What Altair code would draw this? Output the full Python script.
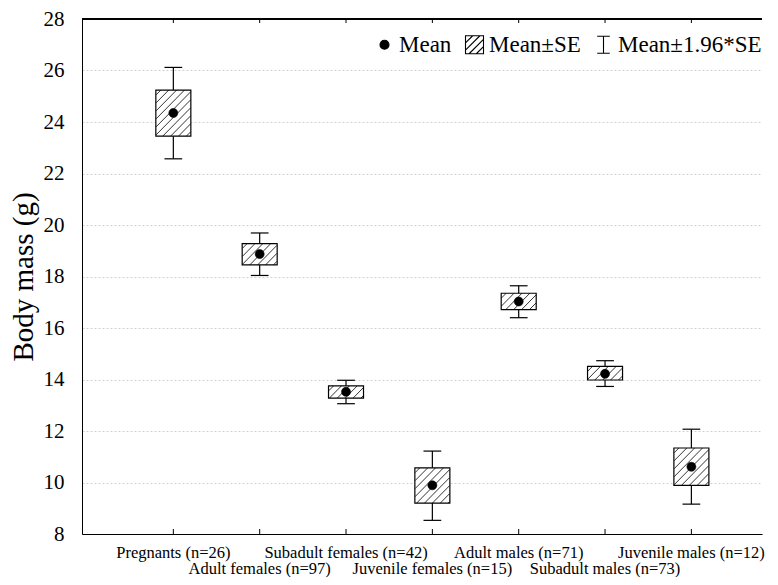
import altair as alt
import pandas as pd

# ---------------- data ----------------
categories = [
    "Pregnants (n=26)", "Adult females (n=97)", "Subadult females (n=42)",
    "Juvenile females (n=15)", "Adult males (n=71)", "Subadult males (n=73)",
    "Juvenile males (n=12)",
]
positions = [1, 2, 3, 4, 5, 6, 7]
label_rows = [0, 1, 0, 1, 0, 1, 0]
means = [24.35, 18.87, 13.52, 9.89, 17.03, 14.22, 10.61]
se_low = [23.45, 18.45, 13.28, 9.20, 16.71, 13.98, 9.89]
se_high = [25.24, 19.28, 13.75, 10.57, 17.35, 14.51, 11.34]
ci_low = [22.57, 18.04, 13.06, 8.53, 16.40, 13.73, 9.16]
ci_high = [26.12, 19.69, 13.97, 11.22, 17.64, 14.73, 12.07]
y_ticks = [8, 10, 12, 14, 16, 18, 20, 22, 24, 26, 28]
legend_labels = ["Mean", "Mean±SE", "Mean±1.96*SE"]

# ---------------- layout ----------------
W, H = 680, 515
XMAX = 7.76
YMIN, YMAX = 8, 28
PX_X = W / XMAX
PX_Y = H / (YMAX - YMIN)
BOX_PX = 35
CAP_PX = 18
HATCH_STEP = 8
FONT = "Liberation Serif"

half_box = BOX_PX / 2 / PX_X
half_cap = CAP_PX / 2 / PX_X

df = pd.DataFrame({
    "cat": categories, "pos": positions, "row": label_rows, "mean": means,
    "se_lo": se_low, "se_hi": se_high, "ci_lo": ci_low, "ci_hi": ci_high,
})
df["cap_l"] = df["pos"] - half_cap
df["cap_r"] = df["pos"] + half_cap
df["kind"] = "Mean"

# hatch segments ("/" at 45 degrees in screen space) inside each SE box
hx, hy, hx2, hy2 = [], [], [], []
for c, lo, hi in zip(positions, se_low, se_high):
    wb = BOX_PX
    hb = (hi - lo) * PX_Y
    k = -hb + HATCH_STEP * 0.6
    while k < wb:
        x0 = max(k, 0.0)
        y0 = x0 - k
        x1 = min(wb, k + hb)
        y1 = x1 - k
        hx.append(c - half_box + x0 / PX_X)
        hy.append(lo + y0 / PX_Y)
        hx2.append(c - half_box + x1 / PX_X)
        hy2.append(lo + y1 / PX_Y)
        k += HATCH_STEP
hatch = pd.DataFrame({"hx": hx, "hy": hy, "hx2": hx2, "hy2": hy2})

# ---------------- scales ----------------
xscale = alt.Scale(domain=[0, XMAX], nice=False, zero=False)
yscale = alt.Scale(domain=[YMIN, YMAX], nice=False, zero=False)

X = alt.X("pos:Q", scale=xscale,
          axis=alt.Axis(labels=False, ticks=False, grid=False, title=None,
                        domainColor="black", domainWidth=1))
Y_axis = alt.Axis(values=y_ticks, title="Body mass (g)", ticks=False,
                  labelPadding=18, labelFont=FONT, labelFontSize=21,
                  labelColor="black", domainColor="black", domainWidth=1,
                  grid=True, gridColor="#c4c4c4", gridDash=[2, 2], gridWidth=0.8,
                  titleFont=FONT, titleFontSize=29, titleFontWeight="normal",
                  titleColor="black", titlePadding=5)

base = alt.Chart(df)

stems = base.mark_rule(color="black", strokeWidth=1.2).encode(
    x=X,
    y=alt.Y("ci_lo:Q", scale=yscale, axis=Y_axis),
    y2="ci_hi:Q",
)
cap_lo = base.mark_rule(color="black", strokeWidth=1.2).encode(
    x=alt.X("cap_l:Q", scale=xscale), x2="cap_r:Q",
    y=alt.Y("ci_lo:Q", scale=yscale),
)
cap_hi = base.mark_rule(color="black", strokeWidth=1.2).encode(
    x=alt.X("cap_l:Q", scale=xscale), x2="cap_r:Q",
    y=alt.Y("ci_hi:Q", scale=yscale),
)
box_fill = base.mark_bar(size=BOX_PX, color="white").encode(
    x=alt.X("pos:Q", scale=xscale),
    y=alt.Y("se_lo:Q", scale=yscale), y2="se_hi:Q",
)
hatch_lines = alt.Chart(hatch).mark_rule(color="black", strokeWidth=0.8).encode(
    x=alt.X("hx:Q", scale=xscale), x2="hx2:Q",
    y=alt.Y("hy:Q", scale=yscale), y2="hy2:Q",
)
box_outline = base.mark_bar(size=BOX_PX, fillOpacity=0, stroke="black",
                            strokeWidth=1.2).encode(
    x=alt.X("pos:Q", scale=xscale),
    y=alt.Y("se_lo:Q", scale=yscale), y2="se_hi:Q",
)

circle_path = "M-0.5,0A0.5,0.5,0,1,0,0.5,0A0.5,0.5,0,1,0,-0.5,0Z"
hatch_path = ("M-1,-1H1V1H-1Z"
              "M-1,-0.2L-0.2,-1M-1,0.6L0.6,-1M-0.6,1L1,-0.6M0.2,1L1,0.2")
ibeam_path = "M-0.7,-0.95H0.7M0,-0.95V0.95M-0.7,0.95H0.7"

leg = alt.Legend(title=None, orient="none", legendX=291, legendY=14,
                 direction="horizontal", labelFont=FONT, labelFontSize=23,
                 labelColor="black", symbolSize=324, symbolStrokeColor="black",
                 symbolStrokeWidth=1.1, columnPadding=11, labelOffset=3,
                 padding=0)

mean_pts = base.mark_point(filled=True, size=324, strokeWidth=0.6,
                           opacity=1).encode(
    x=alt.X("pos:Q", scale=xscale),
    y=alt.Y("mean:Q", scale=yscale),
    shape=alt.Shape("kind:N", scale=alt.Scale(
        domain=legend_labels, range=[circle_path, hatch_path, ibeam_path]),
        legend=leg),
    fill=alt.Fill("kind:N", scale=alt.Scale(
        domain=legend_labels, range=["black", "white", "white"]),
        legend=leg),
    stroke=alt.Stroke("kind:N", scale=alt.Scale(
        domain=legend_labels, range=["black", "black", "black"]),
        legend=leg),
)

# inward ticks on bottom and top axes, and the top frame line
bottom_ticks = base.mark_rule(color="black", strokeWidth=1).encode(
    x=alt.X("pos:Q", scale=xscale), y=alt.value(H), y2=alt.value(H - 5))
top_ticks = base.mark_rule(color="black", strokeWidth=1).encode(
    x=alt.X("pos:Q", scale=xscale), y=alt.value(0), y2=alt.value(4))
top_line = base.mark_rule(color="black", strokeWidth=1).encode(
    x=alt.value(0), x2=alt.value(W), y=alt.value(0))

# staggered category labels
lab1 = base.transform_filter("datum.row == 0").mark_text(
    font=FONT, fontSize=16.5, color="black", align="center", baseline="alphabetic"
).encode(x=alt.X("pos:Q", scale=xscale), y=alt.value(H + 24), text="cat:N")
lab2 = base.transform_filter("datum.row == 1").mark_text(
    font=FONT, fontSize=16.5, color="black", align="center", baseline="alphabetic"
).encode(x=alt.X("pos:Q", scale=xscale), y=alt.value(H + 40), text="cat:N")

chart = alt.layer(
    stems, cap_lo, cap_hi, box_fill, hatch_lines, box_outline, mean_pts,
    bottom_ticks, top_ticks, top_line, lab1, lab2,
).properties(
    width=W, height=H,
    autosize=alt.AutoSizeParams(type="none"),
    padding={"left": 74, "top": 11, "right": 6, "bottom": 43},
    background="white",
).configure_view(stroke=None).configure_axis(
    labelFont=FONT, titleFont=FONT, labelColor="black", titleColor="black"
).configure_legend(
    labelFont=FONT, labelFontSize=23, labelColor="black"
)

chart.save("out.html", embed_options={"renderer": "svg", "actions": False})
